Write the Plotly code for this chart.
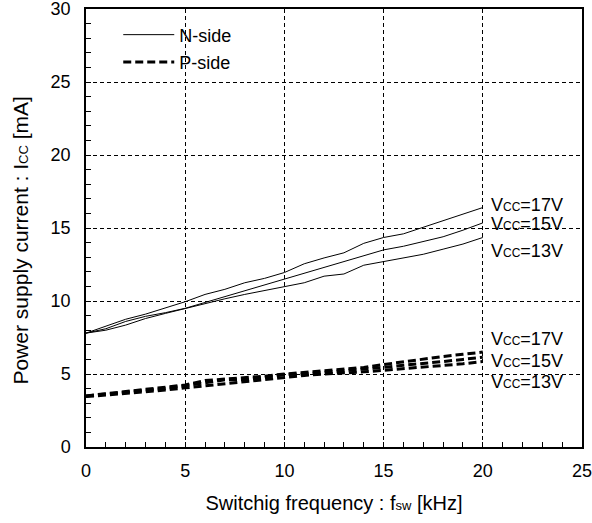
import plotly.graph_objects as go

freq = list(range(0, 21))

n_17v = [7.8, 8.3, 8.75, 9.1, 9.5, 9.95, 10.45, 10.8, 11.25, 11.55, 11.95,
         12.55, 12.95, 13.3, 13.95, 14.35, 14.6, 15.05, 15.45, 15.9, 16.4]
n_15v = [7.8, 8.1, 8.6, 8.95, 9.2, 9.5, 9.9, 10.3, 10.7, 11.1, 11.5,
         11.9, 12.35, 12.75, 13.15, 13.5, 13.75, 14.05, 14.4, 14.85, 15.35]
n_13v = [7.8, 8.0, 8.35, 8.8, 9.15, 9.5, 9.8, 10.15, 10.45, 10.7, 10.95,
         11.25, 11.7, 11.85, 12.45, 12.7, 12.95, 13.2, 13.55, 13.9, 14.35]

p_17v = [3.5, 3.65, 3.8, 3.95, 4.1, 4.25, 4.55, 4.65, 4.7, 4.85, 5.0,
         5.1, 5.2, 5.3, 5.45, 5.65, 5.85, 6.0, 6.2, 6.35, 6.5]
p_15v = [3.5, 3.6, 3.75, 3.9, 4.0, 4.2, 4.4, 4.6, 4.6, 4.8, 4.95,
         5.0, 5.1, 5.2, 5.3, 5.45, 5.6, 5.7, 5.85, 6.0, 6.15]
p_13v = [3.45, 3.55, 3.7, 3.8, 3.9, 4.05, 4.2, 4.35, 4.45, 4.6, 4.8,
         4.9, 5.0, 5.05, 5.15, 5.25, 5.35, 5.45, 5.6, 5.7, 5.85]

label_texts = ["17V", "15V", "13V"]
n_label_y = [16.55, 15.3, 13.45]
p_label_y = [7.4, 5.9, 4.46]
label_x = 20.3

FONT = "Liberation Sans, Arial, sans-serif"
SUB = "<span style='font-size:12px'>%s</span>"
SUBT = "<span style='font-size:13px'>%s</span>"

fig = go.Figure()

for i, ys in enumerate([n_17v, n_15v, n_13v]):
    fig.add_trace(go.Scatter(
        x=freq, y=ys, mode="lines", name="N-side", legendgroup="n",
        line=dict(color="black", width=1),
        showlegend=(i == 0), legendrank=1,
    ))
for i, ys in enumerate([p_17v, p_15v, p_13v]):
    fig.add_trace(go.Scatter(
        x=freq, y=ys, mode="lines", name="P-side", legendgroup="p",
        line=dict(color="black", width=3, dash="8px,4px"),
        showlegend=(i == 0), legendrank=2,
    ))

for yv_list in (n_label_y, p_label_y):
    for t, yv in zip(label_texts, yv_list):
        fig.add_annotation(x=label_x, y=yv, xref="x", yref="y", xanchor="left",
                           yanchor="middle", showarrow=False,
                           text="V" + SUB % "CC" + "=" + t,
                           font=dict(size=18, color="black", family=FONT))

# y-axis title as rotated annotation
fig.add_annotation(x=-0.133, y=0.4715, xref="paper", yref="paper",
                   xanchor="center", yanchor="middle", showarrow=False,
                   textangle=-90,
                   text="Power supply current : I" + SUBT % "CC" + " [mA]",
                   font=dict(size=21, color="black", family=FONT))

axis_common = dict(
    showline=True, linecolor="black", linewidth=1.5, mirror=True,
    ticks="inside", ticklen=5, tickcolor="black", tickwidth=1,
    showgrid=True, gridcolor="black", gridwidth=1, griddash="4px,3px",
    zeroline=False, automargin=False, ticklabeloverflow="allow",
    tickfont=dict(size=18, color="black", family=FONT),
    minor=dict(ticks="inside", ticklen=5, dtick=1, tickcolor="black",
               showgrid=False),
)

fig.update_xaxes(range=[0, 25], dtick=5, tick0=0, ticklabelstandoff=7,
                 title=dict(text="Switchig frequency : f" + SUBT % "sw" + " [kHz]",
                            font=dict(size=20, color="black", family=FONT),
                            standoff=16),
                 **axis_common)
fig.update_yaxes(range=[0, 30], dtick=5, tick0=0, ticklabelstandoff=10,
                 **axis_common)

fig.update_layout(
    width=592, height=523,
    margin=dict(l=86, r=10, t=9, b=76),
    plot_bgcolor="white", paper_bgcolor="white",
    font=dict(family=FONT, size=18, color="black"),
    legend=dict(x=0.065, y=0.983, xanchor="left", yanchor="top",
                bgcolor="rgba(0,0,0,0)", borderwidth=0,
                font=dict(size=18, color="black", family=FONT),
                tracegroupgap=1, itemwidth=51),
)

fig.write_html("out.html", config={"displayModeBar": False},
               post_script="document.body.style.margin='0px';")
